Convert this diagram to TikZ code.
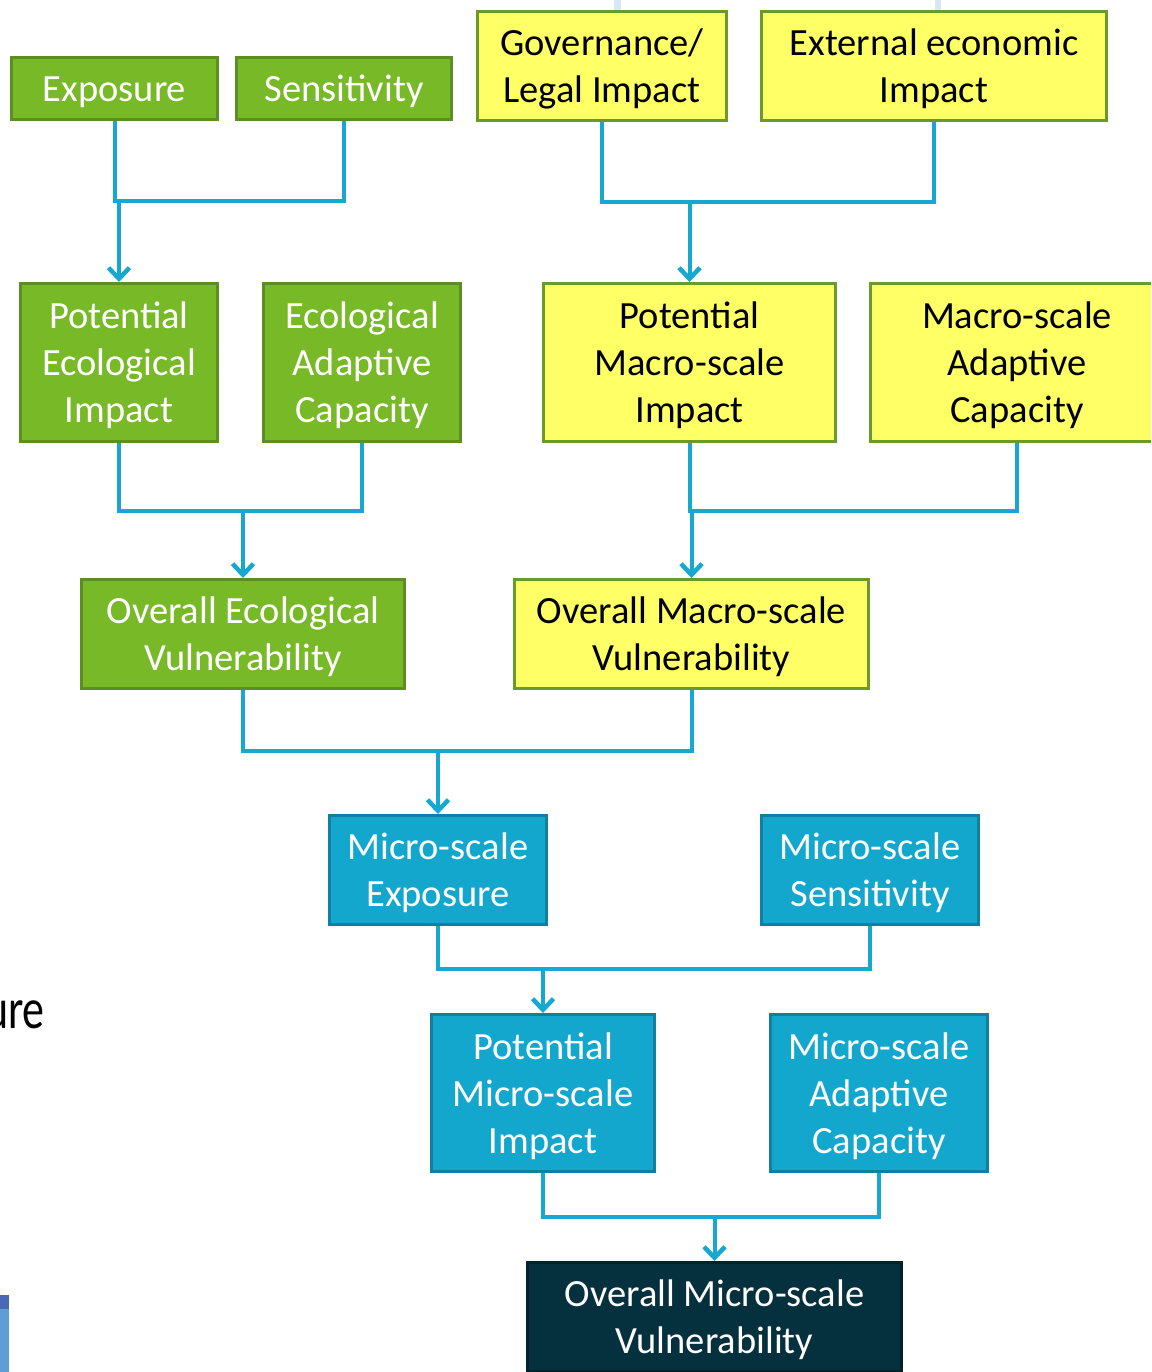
\documentclass[tikz,border=0pt]{standalone}
\usepackage{fontspec}
\setmainfont{Carlito}
\usetikzlibrary{arrows.meta}
\definecolor{gfill}{HTML}{78B928}
\definecolor{gline}{HTML}{5C8E22}
\definecolor{yfill}{HTML}{FFFF66}
\definecolor{yline}{HTML}{6C9A2A}
\definecolor{bfill}{HTML}{14A7CE}
\definecolor{bline}{HTML}{127FA0}
\definecolor{dfill}{HTML}{05303D}
\definecolor{dline}{HTML}{03222C}
\definecolor{cline}{HTML}{17A8CF}
\definecolor{bgline}{HTML}{D8E7F8}
\definecolor{bar1}{HTML}{4A69B4}
\definecolor{bar2}{HTML}{5E9ED6}
\newcommand{\boxtext}[1]{\raisebox{-4pt}[\height][\depth]{\begin{tabular}{@{}c@{}}#1\end{tabular}}}
\tikzset{
  box/.style={rectangle, line width=3pt, inner sep=0pt,
    font=\fontsize{38.5}{47}\selectfont},
  gbox/.style={box, fill=gfill, draw=gline, text=white},
  ybox/.style={box, fill=yfill, draw=yline, text=black},
  bbox/.style={box, fill=bfill, draw=bline, text=white},
  dbox/.style={box, fill=dfill, draw=dline, text=white},
  conn/.style={draw=cline, line width=4pt},
  arr/.style={conn, -{Straight Barb[length=11pt,width=21pt,line width=4.5pt]}},
}
\begin{document}
\begin{tikzpicture}[x=1pt,y=-1pt]
\useasboundingbox (0,0) rectangle (1151,1372);
\begin{scope}
\clip (0,0) rectangle (1151,1372);
% background fragments
\fill[bgline] (614,0) rectangle (621,12);
\fill[bgline] (935,0) rectangle (941,12);
\fill[bar1] (0,1295) rectangle (9,1309);
\fill[bar2] (0,1309) rectangle (9,1372);
\node[anchor=base east, inner sep=0pt, font=\fontsize{44}{50}\selectfont] (ure) at (45,1028) {\scalebox{1}[1.3]{ure}};

% nodes
\node[gbox, minimum width=206, minimum height=62] (exp) at (114.5,88.5) {\boxtext{Exposure}};
\node[gbox, minimum width=215, minimum height=62] (sens) at (344,88.5) {\boxtext{Sensitivity}};
\node[ybox, minimum width=249, minimum height=109] (gov) at (602,66) {\boxtext{Governance/\\Legal Impact}};
\node[ybox, minimum width=345, minimum height=109] (ext) at (934,66) {\boxtext{External economic\\Impact}};

\node[gbox, minimum width=197, minimum height=158] (pei) at (119,362.5) {\boxtext{Potential\\Ecological\\Impact}};
\node[gbox, minimum width=197, minimum height=158] (eac) at (362,362.5) {\boxtext{Ecological\\Adaptive\\Capacity}};
\node[ybox, minimum width=292, minimum height=158] (pmi) at (689.5,362.5) {\boxtext{Potential\\Macro-scale\\Impact}};
\node[ybox, minimum width=293, minimum height=158] (mac) at (1017,362.5) {\boxtext{Macro-scale\\Adaptive\\Capacity}};

\node[gbox, minimum width=323, minimum height=109] (oev) at (243,634) {\boxtext{Overall Ecological\\Vulnerability}};
\node[ybox, minimum width=354, minimum height=109] (omv) at (691.5,634) {\boxtext{Overall Macro-scale\\Vulnerability}};

\node[bbox, minimum width=217, minimum height=109] (mse) at (438,870) {\boxtext{Micro-scale\\Exposure}};
\node[bbox, minimum width=217, minimum height=109] (mss) at (870,870) {\boxtext{Micro-scale\\Sensitivity}};

\node[bbox, minimum width=223, minimum height=157] (pmsi) at (543,1093) {\boxtext{Potential\\Micro-scale\\Impact}};
\node[bbox, minimum width=217, minimum height=157] (msac) at (879,1093) {\boxtext{Micro-scale\\Adaptive\\Capacity}};

\node[dbox, minimum width=374, minimum height=109] (omsv) at (714.5,1317) {\boxtext{Overall Micro-scale\\Vulnerability}};

% junctions
\coordinate (j1) at (119,201);
\coordinate (j2) at (689.5,202);
\coordinate (j3) at (243,511);
\coordinate (j4) at (691.5,511);
\coordinate (j5) at (438,751);
\coordinate (j6) at (543,969);
\coordinate (j7) at (714.5,1217);

% connectors
\draw[conn] (exp.south) |- (j1) -| (sens.south);
\draw[arr] (j1) -- (pei.north);
\draw[conn] (gov.south) |- (j2) -| (ext.south);
\draw[arr] (j2) -- (pmi.north);
\draw[conn] (pei.south) |- (j3) -| (eac.south);
\draw[arr] (j3) -- (oev.north);
\draw[conn] (pmi.south) |- (j4) -| (mac.south);
\draw[arr] (j4) -- (omv.north);
\draw[conn] (oev.south) |- (j5) -| (omv.south);
\draw[arr] (j5) -- (mse.north);
\draw[conn] (mse.south) |- (j6) -| (mss.south);
\draw[arr] (j6) -- (pmsi.north);
\draw[conn] (pmsi.south) |- (j7) -| (msac.south);
\draw[arr] (j7) -- (omsv.north);
\end{scope}
\end{tikzpicture}
\end{document}
